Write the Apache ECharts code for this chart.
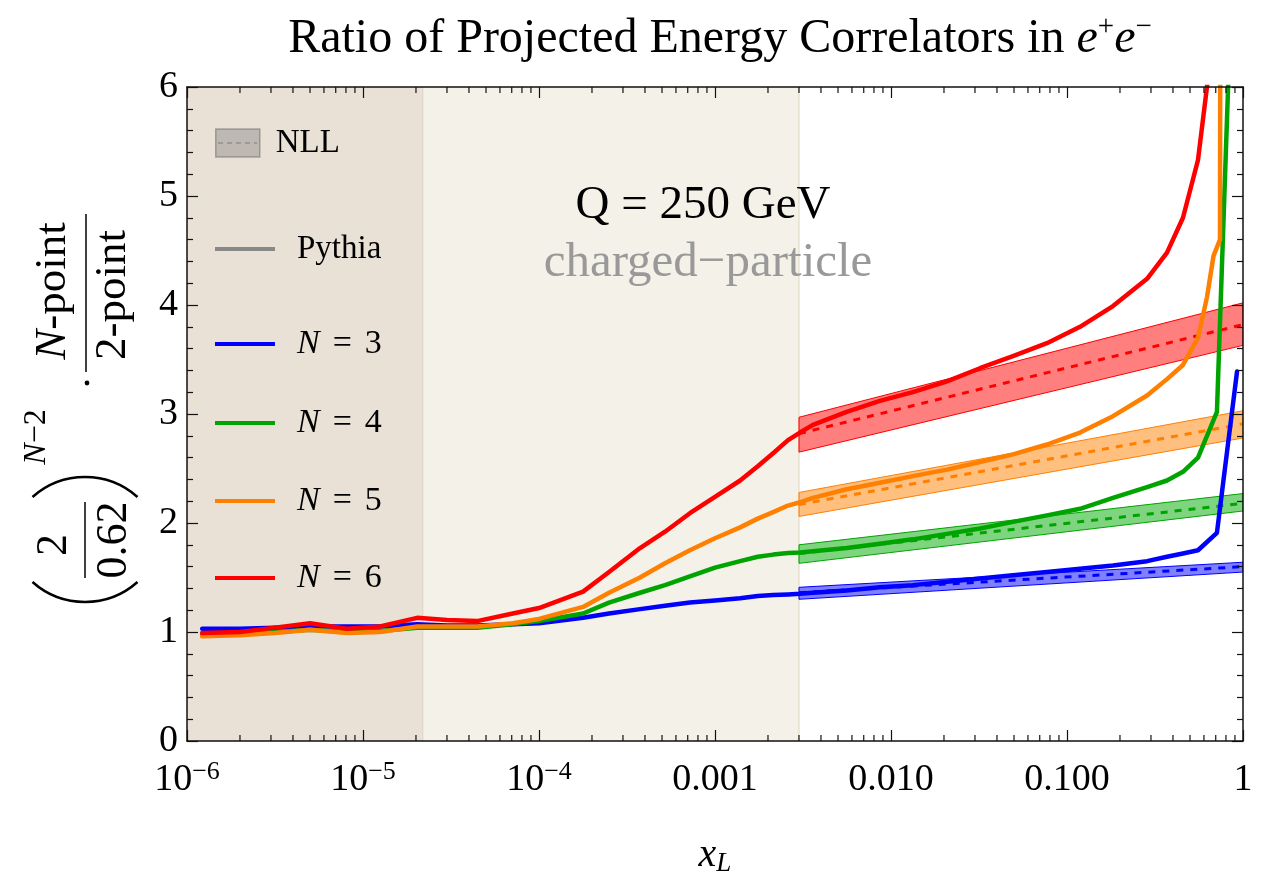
<!DOCTYPE html>
<html>
<head>
<meta charset="utf-8">
<script src="https://cdn.jsdelivr.net/npm/echarts@6/dist/echarts.min.js"></script>
<style>html,body{margin:0;padding:0;background:#fff}#c{width:1278px;height:876px}</style>
</head>
<body>
<div id="c"></div>
<script>
const FONT = '"Liberation Serif","Times New Roman",serif';

// ---- axis ranges / ticks ----
const X_MIN = 1e-6, X_MAX = 1;
const Y_MIN = 0, Y_MAX = 6;
const xDecades = [1e-6, 1e-5, 1e-4, 1e-3, 1e-2, 1e-1];
const minorMultipliers = [2, 3, 4, 5, 6, 7, 8, 9];

// ---- shaded regions (x edges) ----
const regionStarts = [1e-6, 2.2e-5];
const regionEnds = [2.2e-5, 0.003];

// ---- Pythia curves ----
const xPythia = [1.22e-6, 2.0e-6, 3.16e-6, 5.0e-6, 8.1e-6, 1.25e-5, 2.03e-5, 3.0e-5, 4.45e-5, 7.1e-5,
  1.0e-4, 1.78e-4, 2.5e-4, 3.75e-4, 5.2e-4, 7.2e-4, 1.0e-3, 1.39e-3, 1.75e-3, 2.14e-3, 2.6e-3, 3.04e-3,
  3.6e-3, 5.6e-3, 8.65e-3, 0.0133, 0.0208, 0.032, 0.0493, 0.0769, 0.1186, 0.1825, 0.285, 0.37, 0.456, 0.555];

const pythiaN3 = [1.03, 1.03, 1.04, 1.05, 1.05, 1.05, 1.07, 1.06, 1.06, 1.07,
  1.08, 1.13, 1.17, 1.21, 1.24, 1.27, 1.29, 1.31, 1.33, 1.34, 1.345, 1.35,
  1.36, 1.38, 1.41, 1.43, 1.46, 1.49, 1.52, 1.55, 1.58, 1.61, 1.65, 1.69, 1.72, 1.75];
const tailXN3 = [0.711, 0.925];
const tailN3 = [1.91, 3.39];

const pythiaN4 = [0.97, 0.98, 1.00, 1.02, 1.00, 1.01, 1.04, 1.04, 1.04, 1.07,
  1.10, 1.17, 1.27, 1.36, 1.43, 1.51, 1.59, 1.65, 1.69, 1.71, 1.725, 1.73,
  1.74, 1.77, 1.81, 1.85, 1.90, 1.95, 2.01, 2.07, 2.13, 2.23, 2.33, 2.39, 2.47, 2.60];
const tailXN4 = [0.711, 0.835];
const tailN4 = [3.02, 6.3];

const pythiaN5 = [0.96, 0.97, 0.99, 1.02, 0.99, 1.00, 1.05, 1.05, 1.05, 1.08,
  1.12, 1.23, 1.36, 1.50, 1.63, 1.75, 1.86, 1.96, 2.04, 2.10, 2.16, 2.19,
  2.23, 2.31, 2.37, 2.43, 2.49, 2.56, 2.63, 2.72, 2.83, 2.98, 3.17, 3.32, 3.45, 3.70];
const tailXN5 = [0.624, 0.68, 0.74, 0.745];
const tailN5 = [4.07, 4.45, 4.6, 8.0];

const pythiaN6 = [0.99, 1.00, 1.04, 1.08, 1.03, 1.05, 1.13, 1.11, 1.10, 1.17,
  1.22, 1.37, 1.55, 1.77, 1.92, 2.09, 2.24, 2.39, 2.52, 2.64, 2.76, 2.83,
  2.90, 3.02, 3.12, 3.20, 3.30, 3.42, 3.53, 3.65, 3.80, 3.99, 4.24, 4.48, 4.80, 5.33];
const tailXN6 = [0.624, 0.66];
const tailN6 = [6.0, 6.4];

// ---- NLL bands ----
const xNLL = [0.003, 1];
const nllN3Lo = [1.30, 1.55], nllN3Hi = [1.41, 1.64], nllN3Mid = [1.36, 1.60];
const nllN4Lo = [1.63, 2.11], nllN4Hi = [1.80, 2.27], nllN4Mid = [1.72, 2.18];
const nllN5Lo = [2.06, 2.78], nllN5Hi = [2.28, 3.03], nllN5Mid = [2.17, 2.91];
const nllN6Lo = [2.65, 3.63], nllN6Hi = [2.97, 4.02], nllN6Mid = [2.82, 3.82];

const seriesNames = ['N = 3', 'N = 4', 'N = 5', 'N = 6'];
const colors = ['#0000ff', '#00a400', '#ff8000', '#ff0000'];
const fills = ['rgba(0,0,255,0.5)', 'rgba(0,170,0,0.5)', 'rgba(255,128,0,0.5)', 'rgba(255,0,0,0.5)'];

const pythiaAll = [pythiaN3, pythiaN4, pythiaN5, pythiaN6];
const tailXAll = [tailXN3, tailXN4, tailXN5, tailXN6];
const tailYAll = [tailN3, tailN4, tailN5, tailN6];
const nllLoAll = [nllN3Lo, nllN4Lo, nllN5Lo, nllN6Lo];
const nllHiAll = [nllN3Hi, nllN4Hi, nllN5Hi, nllN6Hi];
const nllMidAll = [nllN3Mid, nllN4Mid, nllN5Mid, nllN6Mid];

const minorTicks = [];
xDecades.forEach(d => minorMultipliers.forEach(m => minorTicks.push(d * m)));

function xLabel(v) {
  const e = Math.round(Math.log10(v));
  if (e <= -4) return '{b|10}{s|\u2212' + (-e) + '}';
  if (e === 0) return '{b|1}';
  return '{b|' + Math.pow(10, e).toFixed(3) + '}';
}

const axisLineStyle = { color: '#111', width: 1.5 };
const tickStyle = { color: '#111', width: 1.2 };

const series = [];

// shaded regions
series.push({
  type: 'custom', name: 'regions', z: 1, silent: true, clip: true,
  encode: { x: [0, 1] },
  data: regionStarts.map((s, i) => [s, regionEnds[i]]),
  renderItem: function (params, api) {
    const a = api.coord([api.value(0), Y_MAX]);
    const b = api.coord([api.value(1), Y_MIN]);
    const fill = params.dataIndex === 0 ? '#e9e0d6' : '#f4f1e8';
    const edge = params.dataIndex === 0 ? '#dacdbb' : '#e6e1cd';
    return {
      type: 'group', children: [
        { type: 'rect', shape: { x: a[0], y: a[1], width: b[0] - a[0], height: b[1] - a[1] }, style: { fill: fill } },
        { type: 'line', shape: { x1: b[0], y1: a[1], x2: b[0], y2: b[1] }, style: { stroke: edge, lineWidth: 1.5 } }
      ]
    };
  }
});

// NLL bands
for (let k = 0; k < 4; k++) {
  const lo = nllLoAll[k], hi = nllHiAll[k];
  series.push({
    type: 'custom', name: 'NLL band ' + seriesNames[k], z: 2, silent: true, clip: true,
    encode: { x: [0, 3], y: [1, 2, 4, 5] },
    data: [[xNLL[0], lo[0], hi[0], xNLL[1], lo[1], hi[1]]],
    renderItem: (function (fill, stroke) {
      return function (params, api) {
        const p0h = api.coord([api.value(0), api.value(2)]);
        const p1h = api.coord([api.value(3), api.value(5)]);
        const p1l = api.coord([api.value(3), api.value(4)]);
        const p0l = api.coord([api.value(0), api.value(1)]);
        return {
          type: 'polygon', shape: { points: [p0h, p1h, p1l, p0l] },
          style: { fill: fill, stroke: stroke, lineWidth: 1 }
        };
      };
    })(fills[k], colors[k])
  });
  series.push({
    type: 'line', name: 'NLL mid ' + seriesNames[k], z: 3, silent: true,
    showSymbol: false, symbol: 'none',
    data: xNLL.map((x, i) => [x, nllMidAll[k][i]]),
    lineStyle: { color: colors[k], width: 3, type: [7, 7] },
    itemStyle: { color: colors[k] }
  });
}

// Pythia curves
for (let k = 0; k < 4; k++) {
  const data = xPythia.map((x, i) => [x, pythiaAll[k][i]])
    .concat(tailXAll[k].map((x, i) => [x, tailYAll[k][i]]));
  series.push({
    type: 'line', name: seriesNames[k], z: 4, silent: true, clip: true,
    showSymbol: false, symbol: 'none',
    data: data,
    color: colors[k],
    lineStyle: { color: colors[k], width: 4.5, join: 'round', cap: 'round' },
    itemStyle: { color: colors[k] }
  });
}

// legend-only dummy series
series.push({ type: 'line', name: 'NLL', data: [], color: 'rgba(128,128,128,0.5)' });
series.push({ type: 'line', name: 'Pythia', data: [], color: '#888888', lineStyle: { width: 4 } });

// minor x ticks (bottom and top frame)
series.push({
  type: 'custom', name: 'minor ticks', z: 11, silent: true, clip: false,
  encode: { x: 0, y: 1 },
  data: minorTicks.map(v => [v, Y_MIN]),
  renderItem: function (params, api) {
    const b = api.coord([api.value(0), Y_MIN]);
    const t = api.coord([api.value(0), Y_MAX]);
    return {
      type: 'group', children: [
        { type: 'line', shape: { x1: b[0], y1: b[1], x2: b[0], y2: b[1] - 6 }, style: { stroke: '#111', lineWidth: 1.2 } },
        { type: 'line', shape: { x1: t[0], y1: t[1], x2: t[0], y2: t[1] + 6 }, style: { stroke: '#111', lineWidth: 1.2 } }
      ]
    };
  }
});

const legendText = {
  fontSize: 33, fontFamily: FONT, color: '#000', lineHeight: 34,
  rich: {
    i: { fontStyle: 'italic', fontSize: 34, fontFamily: FONT, color: '#000', lineHeight: 34 },
    eq: { fontSize: 34, fontFamily: FONT, color: '#000', padding: [0, 13, 0, 13], lineHeight: 34 },
    n: { fontSize: 34, fontFamily: FONT, color: '#000', lineHeight: 34 }
  }
};
function legendFmt(name) {
  if (name.indexOf('N = ') === 0) return '{i|N}{eq|=}{n|' + name.slice(4) + '}';
  return name;
}
function lineLegend(name, top) {
  return {
    data: [{ name: name, icon: 'rect' }], left: 215, top: top, padding: 0,
    itemWidth: 60, itemHeight: 4, selectedMode: false, formatter: legendFmt,
    textStyle: Object.assign({ padding: [0, 0, 0, 17] }, legendText)
  };
}

const option = {
  animation: false,
  backgroundColor: '#ffffff',
  title: {
    text: 'Ratio of Projected Energy Correlators in {i|e}{s|+}{i|e}{s|\u2212}',
    left: 715, top: 8, textAlign: 'center',
    textStyle: {
      fontSize: 48, fontWeight: 'normal', fontFamily: FONT, color: '#000', lineHeight: 52,
      rich: {
        i: { fontStyle: 'italic', fontSize: 48, fontFamily: FONT, color: '#000', lineHeight: 52 },
        s: { fontSize: 29, fontFamily: FONT, color: '#000', verticalAlign: 'top', lineHeight: 32 }
      }
    }
  },
  grid: { left: 187, right: 35, top: 87, bottom: 135, show: false, containLabel: false, outerBoundsMode: 'none' },
  xAxis: [{
    type: 'log', logBase: 10, min: X_MIN, max: X_MAX, splitNumber: 6, position: 'bottom', z: 10,
    axisLine: { show: true, onZero: false, lineStyle: axisLineStyle },
    axisTick: { show: true, inside: true, length: 11, lineStyle: tickStyle },
    splitLine: { show: false },
    axisLabel: {
      margin: 18, formatter: xLabel,
      rich: {
        b: { fontSize: 38, fontFamily: FONT, color: '#000', lineHeight: 42 },
        s: { fontSize: 26, fontFamily: FONT, color: '#000', verticalAlign: 'top', lineHeight: 24 }
      }
    },
    name: '{i|x}{s|L}', nameLocation: 'middle', nameGap: 92,
    nameTextStyle: {
      rich: {
        i: { fontStyle: 'italic', fontSize: 40, fontFamily: FONT, color: '#000', lineHeight: 44 },
        s: { fontStyle: 'italic', fontSize: 27, fontFamily: FONT, color: '#000', verticalAlign: 'bottom', lineHeight: 30 }
      }
    }
  }, {
    type: 'log', logBase: 10, min: X_MIN, max: X_MAX, splitNumber: 6, position: 'top', z: 10,
    axisLine: { show: true, onZero: false, lineStyle: axisLineStyle },
    axisTick: { show: true, inside: true, length: 11, lineStyle: tickStyle },
    axisLabel: { show: false }, splitLine: { show: false }
  }],
  yAxis: [{
    type: 'value', min: Y_MIN, max: Y_MAX, interval: 1, position: 'left', z: 10,
    axisLine: { show: true, onZero: false, lineStyle: axisLineStyle },
    axisTick: { show: true, inside: true, length: 11, lineStyle: tickStyle },
    minorTick: { show: true, splitNumber: 5, length: 6, lineStyle: tickStyle },
    splitLine: { show: false }, minorSplitLine: { show: false },
    axisLabel: { margin: 9, fontSize: 38, fontFamily: FONT, color: '#000' }
  }, {
    type: 'value', min: Y_MIN, max: Y_MAX, interval: 1, position: 'right', z: 10,
    axisLine: { show: true, onZero: false, lineStyle: axisLineStyle },
    axisTick: { show: true, inside: true, length: 11, lineStyle: tickStyle },
    minorTick: { show: true, splitNumber: 5, length: 6, lineStyle: tickStyle },
    splitLine: { show: false }, minorSplitLine: { show: false },
    axisLabel: { show: false }
  }],
  legend: [
    {
      data: [{ name: 'NLL', icon: 'rect', itemStyle: { color: 'rgba(128,128,128,0.42)', borderColor: 'rgba(110,110,110,0.55)', borderWidth: 1.5 } }],
      left: 215, top: 126, padding: 0, itemWidth: 44, itemHeight: 28, selectedMode: false,
      textStyle: Object.assign({ padding: [0, 0, 0, 11] }, legendText)
    },
    lineLegend('Pythia', 232),
    lineLegend('N = 3', 327),
    lineLegend('N = 4', 406),
    lineLegend('N = 5', 484),
    lineLegend('N = 6', 561)
  ],
  graphic: [
    // dashed line inside NLL legend icon
    { type: 'line', z: 100, shape: { x1: 218, y1: 143, x2: 257, y2: 143 }, style: { stroke: '#9a9a9a', lineWidth: 2, lineDash: [5, 4] } },
    // annotations
    { type: 'text', z: 100, x: 703, y: 206, style: { text: 'Q = 250 GeV', fontSize: 47, fontFamily: FONT, fill: '#000', textAlign: 'center', textVerticalAlign: 'middle' } },
    { type: 'text', z: 100, x: 708, y: 263, style: { text: 'charged\u2212particle', fontSize: 49, fontFamily: FONT, fill: '#999999', textAlign: 'center', textVerticalAlign: 'middle' } },
    // y-axis label (rotated)
    { type: 'text', x: 53, y: 291, rotation: Math.PI / 2, style: { text: '{i|N}-point', fontSize: 45, fontFamily: FONT, fill: '#000', textAlign: 'center', textVerticalAlign: 'middle', rich: { i: { fontStyle: 'italic', fontSize: 45, fontFamily: FONT, fill: '#000' } } } },
    { type: 'line', shape: { x1: 86, y1: 214, x2: 86, y2: 372 }, style: { stroke: '#000', lineWidth: 1.5 } },
    { type: 'text', x: 113, y: 295, rotation: Math.PI / 2, style: { text: '2-point', fontSize: 45, fontFamily: FONT, fill: '#000', textAlign: 'center', textVerticalAlign: 'middle' } },
    { type: 'circle', shape: { cx: 87, cy: 383, r: 2.4 }, style: { fill: '#000' } },
    { type: 'text', x: 37, y: 437, rotation: Math.PI / 2, style: { text: '{i|N}\u22122', fontSize: 32, fontFamily: FONT, fill: '#000', textAlign: 'center', textVerticalAlign: 'middle', rich: { i: { fontStyle: 'italic', fontSize: 32, fontFamily: FONT, fill: '#000' } } } },
    { type: 'arc', shape: { cx: 85, cy: 556, r: 79, startAngle: -Math.PI / 2 - 0.727, endAngle: -Math.PI / 2 + 0.727, clockwise: true }, style: { stroke: '#000', lineWidth: 2.5, fill: null } },
    { type: 'text', x: 54, y: 545, rotation: Math.PI / 2, style: { text: '2', fontSize: 44, fontFamily: FONT, fill: '#000', textAlign: 'center', textVerticalAlign: 'middle' } },
    { type: 'line', shape: { x1: 85, y1: 502, x2: 85, y2: 578 }, style: { stroke: '#000', lineWidth: 1.5 } },
    { type: 'text', x: 114, y: 540, rotation: Math.PI / 2, style: { text: '0.62', fontSize: 44, fontFamily: FONT, fill: '#000', textAlign: 'center', textVerticalAlign: 'middle' } },
    { type: 'arc', shape: { cx: 85, cy: 523, r: 79, startAngle: Math.PI / 2 - 0.727, endAngle: Math.PI / 2 + 0.727, clockwise: true }, style: { stroke: '#000', lineWidth: 2.5, fill: null } }
  ],
  series: series
};

const chart = echarts.init(document.getElementById('c'), null, { renderer: 'canvas' });
chart.setOption(option);
</script>
</body>
</html>
